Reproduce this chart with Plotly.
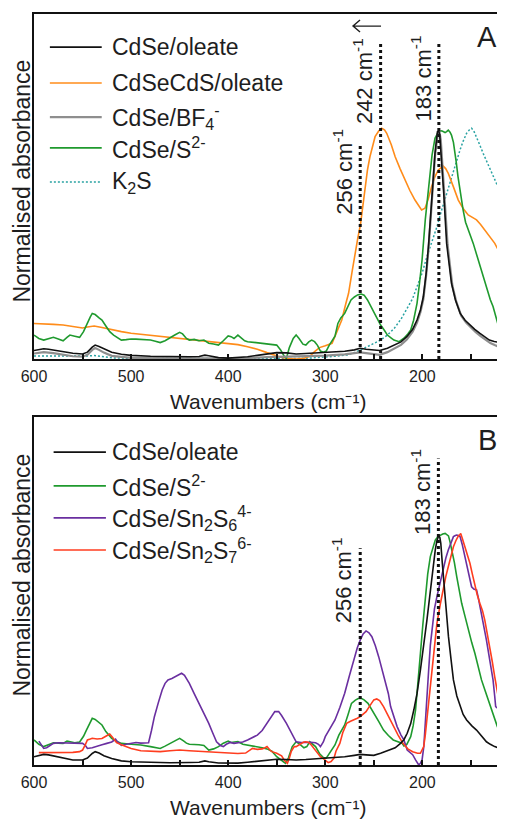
import plotly.graph_objects as go

# ---------------- Panel A data (wavenumber cm-1, normalised absorbance) ----------------
a_oleate_x = [600, 595, 590, 585, 580, 570, 560, 550, 545, 540, 537, 533, 528, 520, 510, 500, 480, 460, 440, 430, 424, 420, 410, 400, 390, 380, 370, 360, 350, 340, 330, 320, 310, 300, 290, 280, 270, 264, 258, 250, 244, 236, 229, 222, 216, 210, 205.5, 202, 199, 196, 193.5, 190, 187, 184.5, 183, 182, 180, 178, 175, 172, 170, 166, 161, 156, 151, 146, 141, 136, 131, 126, 120]
a_oleate_y = [.037, .042, .045, .043, .039, .032, .025, .022, .030, .052, .061, .055, .044, .030, .021, .016, .012, .010, .010, .011, .017, .014, .006, .004, .006, .010, .016, .022, .028, .027, .022, .024, .026, .028, .031, .034, .040, .047, .043, .039, .037, .047, .061, .075, .098, .13, .171, .215, .273, .38, .507, .727, .902, .997, 1.0, .975, .86, .727, .507, .40, .332, .26, .20, .17, .149, .13, .113, .098, .083, .077, .072]

a_bf4_x = [600, 590, 580, 570, 560, 550, 545, 540, 537, 533, 528, 520, 510, 500, 450, 400, 380, 360, 340, 320, 300, 280, 270, 264, 258, 250, 244, 236, 229, 222, 216, 210, 205.5, 202, 199, 196, 193.5, 190, 187, 184, 182.5, 181, 179, 177, 174, 171, 169, 165, 160, 155, 150, 145, 140, 135, 130, 125, 120]
a_bf4_y = [.024, .030, .026, .020, .012, .010, .018, .040, .048, .040, .028, .014, .008, .005, .003, .002, .004, .008, .010, .012, .015, .020, .025, .029, .026, .020, .018, .030, .045, .062, .085, .12, .16, .205, .262, .37, .49, .71, .89, .99, 1.0, .96, .84, .71, .50, .39, .32, .25, .19, .16, .137, .118, .10, .085, .07, .06, .052]

a_cdscds_x = [600, 590, 580, 570, 560, 550, 545, 538, 530, 520, 510, 500, 480, 460, 440, 420, 400, 390, 380, 370, 360, 350, 345, 338, 330, 322, 316, 311, 306, 300, 293, 288, 283, 279, 276, 272.5, 269.5, 266.5, 263.7, 261, 259, 256.5, 254, 251, 248.7, 245, 242, 239, 236.7, 232, 228, 223, 218, 213, 207.6, 203, 200.8, 197.3, 194, 190.5, 187, 183.6, 180.5, 178.5, 176, 173.3, 168, 163, 158, 152.8, 148, 144.2, 140, 135.6, 130, 125.4, 120]
a_cdscds_y = [.156, .155, .152, .149, .143, .136, .14, .145, .138, .128, .12, .113, .104, .095, .086, .078, .069, .063, .054, .043, .028, .014, .007, .002, .0, .003, .012, .032, .05, .058, .069, .12, .171, .24, .288, .38, .463, .53, .59, .68, .756, .83, .887, .94, .975, 1.0, 1.012, 1.005, .99, .94, .887, .835, .785, .74, .697, .668, .654, .661, .70, .756, .80, .829, .842, .846, .835, .814, .755, .697, .66, .632, .62, .61, .59, .566, .535, .507, .463]

a_s2_x = [600, 595, 590, 585, 580, 575, 570, 566, 563, 558, 553, 549, 546, 542, 540, 537, 533, 530, 526, 522, 518, 513, 510, 505, 500, 495, 490, 485, 480, 475, 470, 465, 460, 455, 450, 447, 443, 440, 435, 430, 425, 420, 415, 410, 405, 400, 397, 394, 390, 387, 383, 380, 375, 370, 365, 360, 355, 350, 346, 342, 340, 337, 333, 330, 327, 323, 320, 317, 314, 311, 308, 305, 302, 299, 296, 292, 290, 287, 284, 280, 277, 273.5, 270, 266.7, 263, 260, 256.5, 253, 249.7, 246, 243, 239, 236, 232, 229.3, 224, 219, 215, 212, 209, 205.5, 203, 200.3, 197, 193.5, 190, 187, 183.3, 180, 178, 176.6, 175, 173.3, 171.5, 170, 168, 166.7, 165, 163.3, 160.5, 158, 155.5, 153, 150, 147.6, 145, 142.5, 140, 137.4, 135, 132.3, 130, 127.2, 125.5, 123.8, 122, 120]
a_s2_y = [.105, .09, .083, .09, .095, .088, .080, .095, .105, .100, .095, .12, .15, .185, .200, .195, .18, .171, .145, .12, .105, .09, .083, .085, .088, .087, .086, .084, .083, .078, .072, .080, .091, .105, .117, .11, .09, .083, .086, .080, .083, .069, .066, .061, .08, .101, .098, .09, .105, .095, .08, .076, .073, .070, .068, .066, .064, .061, .04, .01, .003, .05, .09, .105, .09, .065, .061, .075, .083, .076, .06, .035, .03, .035, .06, .083, .1, .156, .18, .200, .23, .259, .272, .281, .285, .28, .259, .23, .200, .17, .149, .125, .105, .092, .083, .076, .091, .11, .127, .17, .244, .33, .434, .610, .770, .895, .968, .997, 1.001, .998, .993, .997, 1.004, .995, .982, .95, .917, .86, .800, .72, .653, .60, .566, .535, .507, .47, .434, .40, .361, .325, .288, .26, .230, .20, .171, .15, .134]

a_k2s_x = [600, 580, 560, 550, 545, 538, 530, 520, 500, 450, 400, 350, 320, 300.7, 290, 277, 270, 260, 252, 243, 236, 229, 222, 215.6, 210, 205.5, 200, 195.3, 190, 185, 180, 175, 171, 168, 164.5, 161.2, 158, 154.4, 151.5, 149.3, 147, 144.2, 141, 137.4, 133, 129, 125.5, 122.2, 120]
a_k2s_y = [.013, .013, .012, .010, .013, .015, .010, .005, .003, .002, .002, .002, .003, .007, .012, .018, .028, .047, .065, .083, .105, .134, .175, .222, .265, .317, .38, .449, .515, .580, .655, .727, .78, .829, .875, .917, .955, .990, 1.005, 1.012, 1.0, .975, .94, .902, .86, .822, .785, .756, .745]

# ---------------- Panel B data ----------------
b_oleate_x = [600, 595, 590, 585, 580, 570, 560, 550, 545, 540, 537, 533, 528, 520, 510, 500, 480, 460, 440, 430, 424, 420, 410, 400, 390, 380, 370, 360, 350, 340, 330, 320, 310, 300, 290, 280, 270, 264, 258, 250, 243, 238, 232.7, 228, 222.5, 219, 215.6, 212, 208.8, 205.5, 202, 198.5, 195.3, 192.5, 190.1, 188.5, 186.7, 185, 183.3, 182, 181, 179.5, 177.6, 175.5, 173.1, 170.5, 168, 164.5, 161.2, 158, 154.4, 149, 144.2, 139, 134, 130, 125.5, 120]
b_oleate_y = [.036, .042, .046, .044, .040, .03, .022, .022, .03, .05, .058, .052, .04, .028, .018, .014, .011, .010, .011, .012, .018, .014, .009, .007, .008, .012, .017, .022, .025, .024, .022, .024, .027, .029, .033, .036, .042, .046, .044, .042, .051, .058, .065, .075, .094, .11, .138, .18, .239, .31, .413, .52, .630, .73, .819, .88, .935, .975, .996, .99, .964, .88, .775, .67, .558, .46, .370, .30, .254, .22, .196, .17, .152, .125, .101, .09, .080, .072]

b_s2_x = [600, 595, 590, 585, 580, 575, 570, 566, 562, 558, 553, 549, 546, 542, 540, 537, 533, 530, 526, 522, 520, 515, 510, 500, 490, 480, 470, 465, 460, 455, 450, 446, 443, 440, 435, 430, 425, 420, 415, 410, 405, 400, 397, 393, 390, 385, 380, 375, 370, 365, 360, 355, 350, 345, 341, 338, 334, 330, 326, 322, 319, 316, 313, 310, 306, 302, 299, 296, 292, 290, 286, 283, 280, 276.5, 273, 269, 266, 263, 260, 256, 253, 250, 245, 240, 235, 230, 225, 221, 219, 216, 212, 209.5, 207, 204.5, 202, 199.5, 197, 194.5, 191.8, 189, 186.7, 184, 181.6, 179, 176.5, 174.5, 173.1, 171.5, 169.7, 167, 164.6, 162, 159.5, 156, 152.7, 149, 145.9, 142.5, 139.1, 135.5, 132.3, 129, 125.5, 123, 120]
b_s2_y = [.109, .09, .080, .09, .097, .095, .094, .104, .10, .097, .10, .125, .152, .19, .203, .198, .185, .174, .145, .125, .116, .103, .094, .09, .087, .08, .072, .082, .094, .105, .116, .105, .095, .090, .09, .088, .085, .065, .07, .08, .095, .104, .098, .10, .102, .09, .087, .082, .08, .075, .07, .06, .036, .02, .007, .03, .08, .101, .09, .075, .08, .101, .09, .08, .05, .032, .03, .05, .075, .087, .13, .155, .174, .22, .268, .282, .289, .290, .283, .268, .248, .225, .19, .152, .128, .109, .10, .095, .083, .09, .123, .17, .239, .35, .486, .61, .732, .83, .906, .95, .978, .993, 1.0, 1.004, 1.007, 1.0, .996, .97, .935, .88, .819, .76, .703, .645, .587, .53, .486, .43, .370, .325, .283, .245, .203, .17, .138]

b_sn2s6_x = [595, 592, 590, 587, 583, 580, 575, 570, 565, 560, 555, 550, 547, 545, 540, 535, 530, 525, 520, 516, 514, 512, 510, 505, 500, 495, 490, 485, 482, 479, 476, 472, 468, 465, 462, 458, 455, 451, 448, 445, 440, 435, 430, 425, 420, 416, 412, 408, 405, 402, 398, 394, 390, 385, 380, 375, 370, 365, 360, 356, 352, 348, 345, 340, 335, 330, 325, 320, 315, 310, 307, 305, 302, 300, 295, 290, 285, 280, 275, 270, 267, 264, 261, 258, 255, 252, 248.5, 245, 240, 235, 232.7, 229, 226, 222, 219, 215.6, 212, 210, 207, 205.5, 203.7, 202, 200.3, 198.5, 197, 195.3, 193.5, 191.8, 190, 187.5, 185, 181.5, 178.3, 175.8, 173.3, 170.5, 168, 166, 164.6, 162.9, 161.2, 159, 157, 154.4, 151.8, 149.3, 147, 144.2, 142.5, 140.8, 137.5, 134, 130.6, 127.2, 125.5, 124.5, 122, 120]
b_sn2s6_y = [.104, .085, .072, .075, .088, .094, .097, .096, .095, .094, .094, .094, .085, .072, .075, .08, .088, .094, .10, .112, .10, .095, .085, .09, .094, .098, .095, .097, .097, .15, .21, .27, .326, .355, .370, .376, .384, .393, .399, .39, .355, .31, .268, .225, .181, .14, .101, .085, .080, .09, .098, .094, .098, .10, .109, .118, .130, .15, .181, .21, .232, .232, .215, .181, .14, .101, .098, .10, .099, .097, .09, .080, .10, .123, .16, .196, .25, .312, .39, .471, .51, .543, .57, .583, .575, .558, .52, .471, .39, .31, .254, .21, .167, .13, .109, .065, .052, .045, .022, .01, .0, .008, .022, .08, .167, .29, .413, .52, .601, .68, .732, .80, .862, .90, .935, .97, .993, .998, 1.0, .998, .993, .96, .92, .877, .82, .775, .765, .761, .73, .688, .62, .543, .46, .370, .30, .254, .245, .239]

b_sn2s7_x = [595, 590, 580, 570, 560, 553, 550, 547, 545, 542, 540, 535, 530, 526, 522, 519, 515, 510, 505, 500, 490, 480, 470, 460, 450, 440, 430, 420, 410, 400, 390, 382, 378, 375, 370, 365, 362, 360, 357, 355, 350, 347, 345, 342, 339, 337, 335, 332, 330, 326, 322, 320, 317, 315, 312, 310, 307, 305, 302, 300, 297, 294, 291, 289, 285, 282, 278, 274, 270, 267, 264, 261, 258, 254, 250, 247, 244, 240, 236, 232, 230, 225, 220, 215, 210, 205, 202, 200, 198.6, 197, 195.3, 192.5, 190, 187.5, 185, 181.5, 178.3, 175.8, 173.3, 170.5, 168, 165.5, 162.9, 161.5, 160.5, 158.5, 156.1, 153.5, 151, 148.5, 145.9, 143.5, 140.8, 138, 135.7, 133, 130.6, 128, 125.5, 123, 120]
b_sn2s7_y = [.054, .054, .054, .054, .055, .058, .065, .09, .109, .113, .116, .113, .115, .125, .135, .12, .097, .088, .080, .072, .062, .06, .058, .062, .065, .062, .06, .058, .054, .051, .05, .052, .065, .072, .068, .070, .075, .080, .065, .058, .051, .045, .04, .02, .007, .03, .06, .08, .080, .09, .10, .101, .098, .09, .075, .065, .05, .036, .028, .022, .01, .015, .03, .06, .094, .14, .181, .19, .196, .203, .210, .22, .232, .258, .283, .287, .28, .254, .22, .19, .174, .13, .094, .07, .058, .051, .051, .065, .080, .13, .196, .31, .413, .52, .616, .70, .775, .82, .862, .91, .949, .975, .996, 1.0, 1.007, .98, .949, .91, .877, .83, .775, .74, .703, .67, .630, .57, .514, .45, .384, .32, .254]

# vertical dotted guides: (wavenumber, top, label, label centre)
a_guides = [(264, 0.946, "256 cm<sup>-1</sup>", 0.822), (243, 1.384, "242 cm<sup>-1</sup>", 1.217), (183, 1.384, "183 cm<sup>-1</sup>", 1.230)]
b_guides = [(264, 0.942, "256 cm<sup>-1</sup>", 0.804), (183.5, 1.333, "183 cm<sup>-1</sup>", 1.189)]

a_names = ["CdSe/oleate", "CdSeCdS/oleate", "CdSe/BF<sub>4</sub><sup>-</sup>", "CdSe/S<sup>2-</sup>", "K<sub>2</sub>S"]
b_names = ["CdSe/oleate", "CdSe/S<sup>2-</sup>", "CdSe/Sn<sub>2</sub>S<sub>6</sub><sup>4-</sup>", "CdSe/Sn<sub>2</sub>S<sub>7</sub><sup>6-</sup>"]
x_title = "Wavenumbers (cm\u207b\u00b9)"
y_title = "Normalised absorbance"

BLACK = "#111111"
ORANGE = "#ff8c1a"
GRAY = "#8e8e8e"
GREEN = "#1f9a2e"
TEAL = "#2aa3a3"
PURPLE = "#6a2fa0"
RED = "#ff3d1f"
FONT = "Liberation Sans, Arial, sans-serif"
TXT = "#1e1e1e"

# the page body adds an 8 px offset; the figure is sized to fill the rest of the window
W, H = 497, 812
ML, MR, MT, MB = 26, 1.5, 6, 55
PW = W - ML - MR
PH = H - MT - MB

fig = go.Figure()

def add(x, y, color, ax, width=1.6, dash="solid"):
    fig.add_trace(go.Scatter(x=x, y=y, mode="lines", line=dict(color=color, width=width, dash=dash),
                             xaxis=ax[0], yaxis=ax[1], showlegend=False, hoverinfo="skip"))

A = ("x", "y")
B = ("x2", "y2")
add(a_k2s_x, a_k2s_y, TEAL, A, 1.5, "2px,2px")
add(a_cdscds_x, a_cdscds_y, ORANGE, A)
add(a_s2_x, a_s2_y, GREEN, A)
add(a_bf4_x, a_bf4_y, GRAY, A, 2.2)
add(a_oleate_x, a_oleate_y, BLACK, A)

add(b_s2_x, b_s2_y, GREEN, B)
add(b_sn2s6_x, b_sn2s6_y, PURPLE, B)
add(b_sn2s7_x, b_sn2s7_y, RED, B)
add(b_oleate_x, b_oleate_y, BLACK, B)

shapes = []
annotations = []
for (xr, yr, guides) in (("x", "y", a_guides), ("x2", "y2", b_guides)):
    for (gx, gtop, label, ymid) in guides:
        shapes.append(dict(type="line", xref=xr, yref=yr, x0=gx, x1=gx, y0=0, y1=gtop,
                           line=dict(color=BLACK, width=3, dash="dot")))
        annotations.append(dict(xref=xr, yref=yr, x=gx, y=ymid, text=label, textangle=-90,
                                showarrow=False, xanchor="right", yanchor="middle", xshift=-2,
                                font=dict(size=22, family=FONT, color=TXT)))

# legends (manual)
a_leg = [(a_names[0], BLACK, "solid", 1.6), (a_names[1], ORANGE, "solid", 1.6), (a_names[2], GRAY, "solid", 2.2),
         (a_names[3], GREEN, "solid", 1.6), (a_names[4], TEAL, "2px,2px", 1.5)]
a_leg_y = [0.904, 0.800, 0.701, 0.612, 0.513]
for (name, col, dash, w), yy in zip(a_leg, a_leg_y):
    shapes.append(dict(type="line", xref="x domain", yref="y domain", x0=0.034, x1=0.145, y0=yy, y1=yy,
                       line=dict(color=col, width=w, dash=dash)))
    annotations.append(dict(xref="x domain", yref="y domain", x=0.163, y=yy, text=name, showarrow=False,
                            xanchor="left", yanchor="middle", font=dict(size=23, family=FONT, color=TXT)))
b_leg = [(b_names[0], BLACK), (b_names[1], GREEN), (b_names[2], PURPLE), (b_names[3], RED)]
b_leg_y = [0.899, 0.802, 0.710, 0.618]
for (name, col), yy in zip(b_leg, b_leg_y):
    shapes.append(dict(type="line", xref="x2 domain", yref="y2 domain", x0=0.042, x1=0.154, y0=yy, y1=yy,
                       line=dict(color=col, width=1.6)))
    annotations.append(dict(xref="x2 domain", yref="y2 domain", x=0.163, y=yy, text=name, showarrow=False,
                            xanchor="left", yanchor="middle", font=dict(size=23, family=FONT, color=TXT)))

# panel letters
annotations.append(dict(xref="x domain", yref="y domain", x=0.995, y=0.985, text="A", showarrow=False,
                        xanchor="right", yanchor="top", font=dict(size=29, family=FONT, color=TXT)))
annotations.append(dict(xref="x2 domain", yref="y2 domain", x=0.995, y=0.985, text="B", showarrow=False,
                        xanchor="right", yanchor="top", font=dict(size=29, family=FONT, color=TXT)))

# arrow in A (pixel-sized path anchored in data space)
shapes.append(dict(type="path", xref="x", yref="y", xsizemode="pixel", ysizemode="pixel",
                   xanchor=257, yanchor=1.46, path="M 14 0 L -14 0 M -7 -6 L -14 0 L -7 6",
                   line=dict(color=TXT, width=1.4)))

# x-axis titles
for xd, yd, shift in (("x domain", "y domain", -43), ("x2 domain", "y2 domain", -42)):
    annotations.append(dict(xref=xd, yref=yd, x=0.5, y=0, yshift=shift, text=x_title, showarrow=False,
                            xanchor="center", yanchor="middle", font=dict(size=21, family=FONT, color=TXT)))
# y titles
for yc in (173, 567):
    annotations.append(dict(xref="paper", yref="paper", x=(13.5 - ML) / PW, y=(H - MB - yc) / PH,
                            text=y_title, textangle=-90, showarrow=False,
                            xanchor="center", yanchor="middle", font=dict(size=23, family=FONT, color=TXT)))

xax = dict(range=[600, 119], tickmode="linear", tick0=0, dtick=100, ticks="inside", ticklen=5, tickwidth=1.5,
           tickcolor=BLACK, minor=dict(dtick=50, ticks="inside", ticklen=5, tickwidth=1.5, tickcolor=BLACK),
           showline=True, linewidth=2, linecolor=BLACK, mirror=True, showgrid=False, zeroline=False,
           ticklabelstandoff=2, tickfont=dict(size=16, family=FONT, color=TXT))
yax = dict(range=[0, 1.513], showticklabels=False, ticks="", showline=True, linewidth=2, linecolor=BLACK,
           mirror=True, showgrid=False, zeroline=False)

fig.update_layout(
    width=W, height=H, margin=dict(l=ML, r=MR, t=MT, b=MB),
    paper_bgcolor="white", plot_bgcolor="white",
    xaxis=dict(xax, anchor="y", domain=[0, 1]),
    yaxis=dict(yax, anchor="x", domain=[(757 - 351) / PH, 1]),
    xaxis2=dict(xax, anchor="y2", domain=[0, 1]),
    yaxis2=dict(yax, anchor="x2", domain=[0, (757 - 409) / PH]),
    shapes=shapes, annotations=annotations, showlegend=False,
    font=dict(family=FONT, color=TXT),
)

fig.write_html("out.html")
